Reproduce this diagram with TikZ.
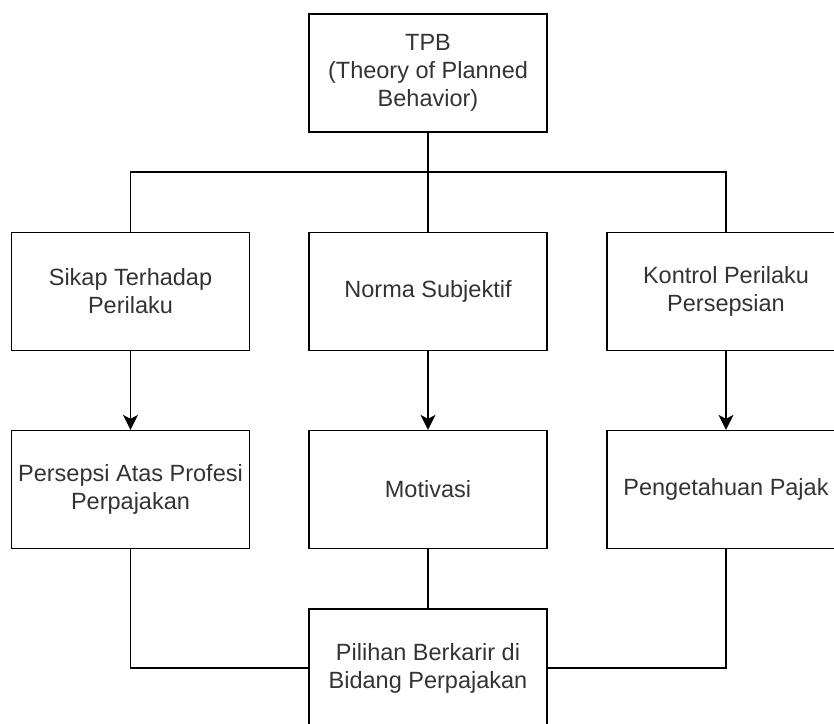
\documentclass[tikz,border=0pt]{standalone}
\usepackage{fontspec}
\setmainfont{Liberation Sans}
\usetikzlibrary{arrows.meta,positioning}
\definecolor{ink}{HTML}{333333}

\begin{document}
\begin{tikzpicture}[x=1pt,y=-1pt,
  box/.style={draw,line width=1.3pt,minimum width=238pt,minimum height=118pt,
    align=center,text=ink,font=\fontsize{23.5}{28}\selectfont},
  link/.style={line width=1.3pt},
  flow/.style={link,-{Stealth[length=15pt,width=15pt,inset=4pt]}}]
  \useasboundingbox (0,0) rectangle (834,723);
  \clip (0,0) rectangle (834,723);

  \node[box] (tpb) at (428,73) {TPB\\(Theory of Planned\\Behavior)};
  \coordinate (split) at (428,172);

  \node[box] (sikap) at (130.5,291.5) {Sikap Terhadap\\Perilaku};
  \node[box] (norma) at (428,291.5) {Norma Subjektif};
  \node[box] (kontrol) at (726,291.5) {Kontrol Perilaku\\Persepsian};

  \node[box] (persepsi) at (130.5,489.5) {Persepsi Atas Profesi\\Perpajakan};
  \node[box] (motivasi) at (428,489.5) {Motivasi};
  \node[box] (pengetahuan) at (726,489.5) {Pengetahuan Pajak};

  \node[box] (pilihan) at (428,668) {Pilihan Berkarir di\\Bidang Perpajakan};

  \draw[link] (tpb) -- (split);
  \draw[link] (sikap.north) |- (split) -| (kontrol.north);
  \draw[link] (split) -- (norma.north);

  \draw[flow] (sikap) -- (persepsi);
  \draw[flow] (norma) -- (motivasi);
  \draw[flow] (kontrol) -- (pengetahuan);

  \draw[link] (persepsi.south) |- (pilihan.west);
  \draw[link] (motivasi) -- (pilihan);
  \draw[link] (pengetahuan.south) |- (pilihan.east);
\end{tikzpicture}
\end{document}
